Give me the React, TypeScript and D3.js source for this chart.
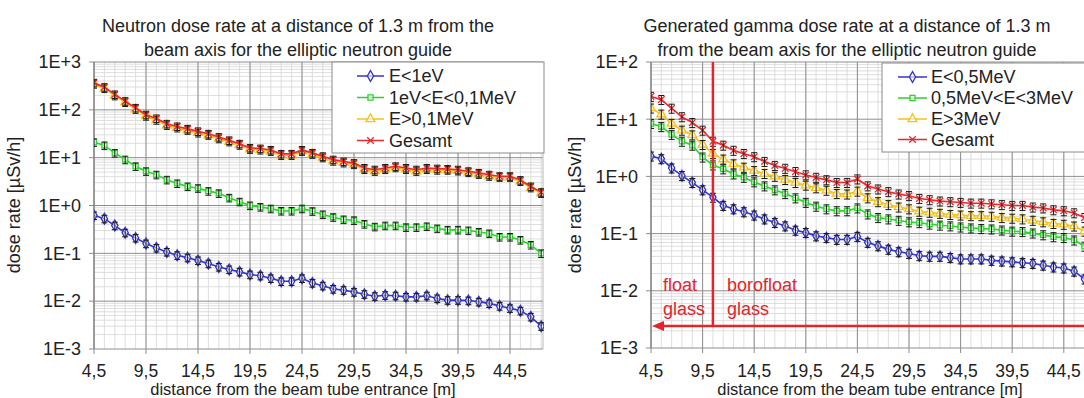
import React from "react";
import * as d3 from "d3";

// distance from the beam tube entrance [m]
const distances = [
  4.5, 5.5, 6.5, 7.5, 8.5, 9.5, 10.5, 11.5, 12.5, 13.5, 14.5, 15.5, 16.5, 17.5, 18.5,
  19.5, 20.5, 21.5, 22.5, 23.5, 24.5, 25.5, 26.5, 27.5, 28.5, 29.5, 30.5, 31.5, 32.5,
  33.5, 34.5, 35.5, 36.5, 37.5, 38.5, 39.5, 40.5, 41.5, 42.5, 43.5, 44.5, 45.5, 46.5, 47.5,
];
const xTickValues = [4.5, 9.5, 14.5, 19.5, 24.5, 29.5, 34.5, 39.5, 44.5];
const xTickLabels = ["4,5", "9,5", "14,5", "19,5", "24,5", "29,5", "34,5", "39,5", "44,5"];

// neutron dose rate [µSv/h]
const neutronLabels = ["E<1eV", "1eV<E<0,1MeV", "E>0,1MeV", "Gesamt"];
const neutronThermal = [
  0.62, 0.53, 0.38, 0.27, 0.21, 0.16, 0.13, 0.107, 0.091, 0.081, 0.071, 0.061, 0.052, 0.046,
  0.041, 0.036, 0.034, 0.03, 0.026, 0.026, 0.03, 0.024, 0.021, 0.018, 0.017, 0.0155, 0.014,
  0.0127, 0.0133, 0.013, 0.0123, 0.0123, 0.013, 0.0114, 0.0105, 0.0105, 0.0103, 0.0097,
  0.009, 0.0079, 0.0071, 0.0063, 0.0047, 0.003,
];
const neutronEpi = [
  21, 18, 12.5, 9.1, 6.6, 5.2, 4.4, 3.45, 2.9, 2.5, 2.3, 2.0, 1.8, 1.45, 1.2, 1.0, 0.93,
  0.86, 0.77, 0.77, 0.86, 0.76, 0.65, 0.57, 0.51, 0.49, 0.41, 0.36, 0.38, 0.38, 0.35, 0.35,
  0.365, 0.33, 0.31, 0.31, 0.3, 0.28, 0.26, 0.22, 0.22, 0.19, 0.15, 0.1,
];
const neutronFast = [
  346, 280, 197, 143, 103, 74, 61, 47.5, 42, 37.5, 33, 29.5, 25, 21.5, 18.3, 15, 14.5, 13.6,
  11.2, 11.2, 13.6, 11.8, 10, 8.5, 7.8, 7.2, 5.7, 5.2, 5.7, 6.2, 5.7, 5.2, 5.7, 5.5, 5.5,
  5.3, 4.9, 4.5, 4.1, 3.9, 3.9, 3.2, 2.35, 1.8,
];
const neutronTotal = [
  368, 298, 210, 152, 110, 79, 66, 51, 45, 40, 35.5, 31.5, 27, 23, 19.5, 16, 15.5, 14.5, 12,
  12, 14.5, 12.6, 10.7, 9.1, 8.3, 7.7, 6.1, 5.6, 6.1, 6.6, 6.1, 5.6, 6.1, 5.9, 5.8, 5.6, 5.2,
  4.8, 4.4, 4.1, 4.1, 3.4, 2.5, 1.9,
];

// generated gamma dose rate [µSv/h]
const gammaLabels = ["E<0,5MeV", "0,5MeV<E<3MeV", "E>3MeV", "Gesamt"];
const gammaLow = [
  2.26, 2.03, 1.4, 1.03, 0.78, 0.58, 0.43, 0.31, 0.27, 0.24, 0.21, 0.18, 0.156, 0.136, 0.114,
  0.104, 0.091, 0.085, 0.079, 0.079, 0.089, 0.07, 0.061, 0.053, 0.048, 0.045, 0.041, 0.04,
  0.04, 0.038, 0.036, 0.036, 0.036, 0.034, 0.033, 0.032, 0.031, 0.03, 0.028, 0.026, 0.025,
  0.022, 0.016,
];
const gammaMid = [
  8.4, 7.4, 5.4, 4.1, 3.5, 2.17, 1.58, 1.35, 1.1, 0.96, 0.8, 0.68, 0.58, 0.5, 0.42, 0.35, 0.3,
  0.27, 0.25, 0.25, 0.28, 0.22, 0.19, 0.18, 0.17, 0.16, 0.155, 0.146, 0.14, 0.136, 0.13,
  0.125, 0.122, 0.12, 0.115, 0.11, 0.108, 0.102, 0.095, 0.088, 0.085, 0.077, 0.06,
];
const gammaHigh = [
  15.6, 12.2, 8.4, 6.4, 5.3, 3.6, 2.5, 2.0, 1.65, 1.44, 1.26, 1.12, 1.0, 0.88, 0.78, 0.7,
  0.63, 0.57, 0.5, 0.49, 0.55, 0.42, 0.36, 0.32, 0.29, 0.27, 0.245, 0.235, 0.225, 0.215,
  0.21, 0.205, 0.205, 0.2, 0.19, 0.185, 0.18, 0.17, 0.16, 0.15, 0.145, 0.135, 0.11,
];
const gammaTotal = [
  25, 22, 15.5, 11, 8.7, 6.4, 4.1, 3.5, 2.85, 2.5, 2.2, 1.82, 1.55, 1.38, 1.21, 1.06, 0.96,
  0.87, 0.78, 0.78, 0.9, 0.68, 0.6, 0.54, 0.49, 0.46, 0.41, 0.39, 0.37, 0.36, 0.35, 0.34,
  0.34, 0.33, 0.32, 0.31, 0.31, 0.29, 0.28, 0.26, 0.25, 0.23, 0.19,
];

const seriesColors = ["#3434c8", "#2ed12e", "#f3c21e", "#e52a2e"];
const markerTypes = ["diamond", "square", "triangle", "times"];
const errorFraction = 0.18;

const font = "Arial, 'Liberation Sans', Helvetica, sans-serif";
const textColor = "#222";

const symbolFor = (t: string) =>
  t === "diamond"
    ? d3.symbolDiamond
    : t === "square"
    ? d3.symbolSquare
    : t === "triangle"
    ? d3.symbolTriangle
    : (d3 as any).symbolTimes || d3.symbolCross;

const Marker = ({ type, color, x, y }: { type: string; color: string; x: number; y: number }) => {
  const size = type === "square" ? 26 : type === "times" ? 30 : 34;
  const path = d3.symbol().type(symbolFor(type)).size(size)() || "";
  return (
    <path
      d={path}
      transform={`translate(${x},${y})`}
      fill={type === "times" ? "none" : "#fff"}
      fillOpacity={0.6}
      stroke={color}
      strokeWidth={1.3}
    />
  );
};

type PanelProps = {
  id: string;
  titleLines: string[];
  titleX: number;
  xTitleX: number;
  x0: number;
  x1: number;
  y0: number;
  y1: number;
  pxPerMeter: number;
  yMinExp: number;
  yMaxExp: number;
  series: number[][];
  labels: string[];
  legend: { x: number; y: number; w: number; h: number; rows: number[]; lineX0: number; lineX1: number; textX: number };
  yTitleX: number;
  annotate?: boolean;
};

const Panel = (p: PanelProps) => {
  const x = d3
    .scaleLinear()
    .domain([4.5, 4.5 + (p.x1 - p.x0) / p.pxPerMeter])
    .range([p.x0, p.x1]);
  const y = d3
    .scaleLog()
    .domain([Math.pow(10, p.yMinExp), Math.pow(10, p.yMaxExp)])
    .range([p.y1, p.y0]);

  const majorsY = d3.range(p.yMinExp, p.yMaxExp + 1).map((e) => Math.pow(10, e));
  const minorsY: number[] = [];
  for (let e = p.yMinExp; e < p.yMaxExp; e++) {
    for (let k = 2; k <= 9; k++) minorsY.push(k * Math.pow(10, e));
  }
  const minorsX = d3.range(4.5, x.domain()[1] + 0.01, 1);

  const line = d3
    .line<number>()
    .x((_, i) => x(distances[i]))
    .y((d) => y(d));

  const cx = p.legend.lineX0;
  const cx1 = p.legend.lineX1;

  return (
    <g fontFamily={font} fill={textColor}>
      <defs>
        <clipPath id={`clip-${p.id}`}>
          <rect x={p.x0} y={p.y0 - 6} width={p.x1 - p.x0 + 1} height={p.y1 - p.y0 + 12} />
        </clipPath>
      </defs>
      {p.titleLines.map((t, i) => (
        <text key={i} x={p.titleX} y={32 + i * 24} textAnchor="middle" fontSize={18}>
          {t}
        </text>
      ))}
      <rect x={p.x0} y={p.y0} width={p.x1 - p.x0} height={p.y1 - p.y0} fill="#fff" />
      {/* minor grid */}
      {minorsY.map((v, i) => (
        <line key={`my${i}`} x1={p.x0} x2={p.x1} y1={y(v)} y2={y(v)} stroke="#d6d6d6" strokeWidth={0.8} />
      ))}
      {minorsX.map((v, i) => (
        <line key={`mx${i}`} x1={x(v)} x2={x(v)} y1={p.y0} y2={p.y1} stroke="#d6d6d6" strokeWidth={0.8} />
      ))}
      {/* major grid */}
      {majorsY.map((v, i) => (
        <line key={`Y${i}`} x1={p.x0 - 5} x2={p.x1} y1={y(v)} y2={y(v)} stroke="#8e8e8e" strokeWidth={1} />
      ))}
      {xTickValues.map((v, i) => (
        <line key={`X${i}`} x1={x(v)} x2={x(v)} y1={p.y0} y2={p.y1 + 5} stroke="#8e8e8e" strokeWidth={1} />
      ))}
      <line x1={p.x0} x2={p.x0} y1={p.y0} y2={p.y1} stroke="#777" />
      <line x1={p.x1} x2={p.x1} y1={p.y0} y2={p.y1} stroke="#bbb" />

      {/* y tick labels */}
      {majorsY.map((v, i) => {
        const e = Math.round(Math.log10(v));
        return (
          <text key={`yl${i}`} x={p.x0 - 13} y={y(v)} dy="0.35em" textAnchor="end" fontSize={18}>
            {`1E${e >= 0 ? "+" : "-"}${Math.abs(e)}`}
          </text>
        );
      })}
      {xTickValues.map((v, i) => (
        <text key={`xl${i}`} x={x(v)} y={377} textAnchor="middle" fontSize={17.5}>
          {xTickLabels[i]}
        </text>
      ))}
      <text x={p.xTitleX} y={395} textAnchor="middle" fontSize={16.5}>
        distance from the beam tube entrance [m]
      </text>
      <text
        transform={`translate(${p.yTitleX},${205}) rotate(-90)`}
        textAnchor="middle"
        dy="0.35em"
        fontSize={18}
      >
        dose rate [µSv/h]
      </text>

      {/* data */}
      <g clipPath={`url(#clip-${p.id})`}>
        {p.series.map((s, si) => (
          <g key={si}>
            <path d={line(s) || ""} fill="none" stroke={seriesColors[si]} strokeWidth={1.6} />
            {s.map((v, i) => {
              const px = x(distances[i]);
              const ya = y(v * (1 + errorFraction));
              const yb = y(v * (1 - errorFraction));
              return (
                <g key={i}>
                  <Marker type={markerTypes[si]} color={seriesColors[si]} x={px} y={y(v)} />
                  <line x1={px} x2={px} y1={ya} y2={yb} stroke="#1a1a1a" strokeWidth={1} />
                  <line x1={px - 3} x2={px + 3} y1={ya} y2={ya} stroke="#1a1a1a" strokeWidth={1} />
                  <line x1={px - 3} x2={px + 3} y1={yb} y2={yb} stroke="#1a1a1a" strokeWidth={1} />
                </g>
              );
            })}
          </g>
        ))}
      </g>

      {/* annotation: glass types */}
      {p.annotate && (
        <g fill="#e3242b" stroke="none" fontSize={18}>
          <line x1={x(10.5)} x2={x(10.5)} y1={p.y0} y2={326} stroke="#e3242b" strokeWidth={2.5} />
          <line x1={p.x1} x2={p.x0 + 10} y1={326} y2={326} stroke="#e3242b" strokeWidth={2.5} />
          <path d={`M${p.x0 + 1},326 L${p.x0 + 13},321 L${p.x0 + 13},331 Z`} />
          <text x={p.x0 + 12} y={291}>float</text>
          <text x={p.x0 + 12} y={315}>glass</text>
          <text x={x(10.5) + 14} y={291}>borofloat</text>
          <text x={x(10.5) + 14} y={315}>glass</text>
        </g>
      )}

      {/* legend */}
      <rect x={p.legend.x} y={p.legend.y} width={p.legend.w} height={p.legend.h} fill="#fff" stroke="#8a8a8a" />
      {p.labels.map((l, i) => (
        <g key={l}>
          <line x1={cx} x2={cx1} y1={p.legend.rows[i]} y2={p.legend.rows[i]} stroke={seriesColors[i]} strokeWidth={1.5} />
          <Marker type={markerTypes[i]} color={seriesColors[i]} x={(cx + cx1) / 2} y={p.legend.rows[i]} />
          <text x={p.legend.textX} y={p.legend.rows[i]} dy="0.35em" fontSize={18}>
            {l}
          </text>
        </g>
      ))}
    </g>
  );
};

const App = () => {
  const width = 1084;
  const height = 398;
  return (
    <div style={{ position: "absolute", left: 0, top: 0, width, height, overflow: "hidden", background: "#fff" }}>
      <svg width={width} height={height} style={{ display: "block" }}>
        <rect width={width} height={height} fill="#fff" />
        <Panel
          id="neutron"
          titleLines={["Neutron dose rate at a distance of 1.3 m from the", "beam axis for the elliptic neutron guide"]}
          titleX={298}
          xTitleX={303}
          x0={94}
          x1={543}
          y0={62}
          y1={349}
          pxPerMeter={10.4}
          yMinExp={-3}
          yMaxExp={3}
          series={[neutronThermal, neutronEpi, neutronFast, neutronTotal]}
          labels={neutronLabels}
          legend={{ x: 332, y: 62, w: 212, h: 91, rows: [76, 97.5, 119, 140.5], lineX0: 357, lineX1: 384, textX: 389 }}
          yTitleX={14}
        />
        <Panel
          id="gamma"
          titleLines={["Generated gamma dose rate at a distance of 1.3 m", "from the beam axis for the elliptic neutron guide"]}
          titleX={847}
          xTitleX={870}
          x0={651}
          x1={1100}
          y0={62}
          y1={348}
          pxPerMeter={10.32}
          yMinExp={-3}
          yMaxExp={2}
          series={[gammaLow, gammaMid, gammaHigh, gammaTotal]}
          labels={gammaLabels}
          legend={{ x: 882, y: 63, w: 220, h: 89, rows: [77, 98, 119, 139.5], lineX0: 898, lineX1: 927, textX: 931 }}
          yTitleX={575}
          annotate
        />
      </svg>
    </div>
  );
};

export default App;
